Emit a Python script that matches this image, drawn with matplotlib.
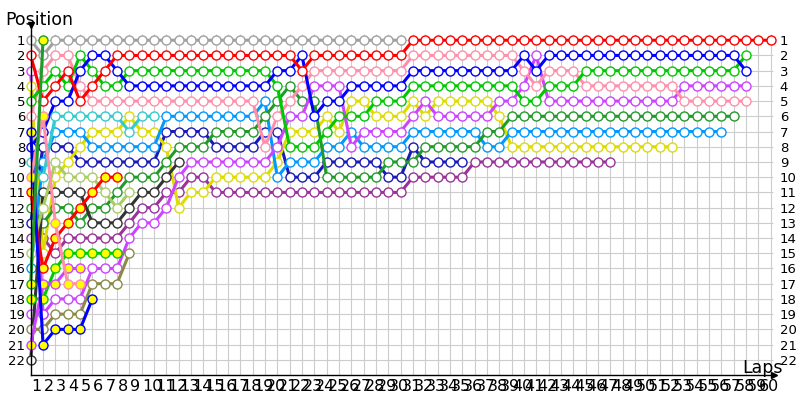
import matplotlib
matplotlib.use("Agg")
import matplotlib.pyplot as plt
from matplotlib.transforms import ScaledTranslation

# lap chart: position of each car at the end of every lap (index = lap, starting at 0)
laps = list(range(1, 61))
positions = list(range(1, 23))

gray_pos = [1, 2, 1, 1, 1, 1, 1, 1, 1, 1, 1, 1, 1, 1, 1, 1, 1, 1, 1, 1, 1,
            1, 1, 1, 1, 1, 1, 1, 1, 1, 1]
red_pos = [2, 5, 4, 3, 5, 4, 3,
           2, 2, 2, 2, 2, 2, 2, 2, 2, 2, 2, 2, 2, 2, 2,
           3,
           2, 2, 2, 2, 2, 2, 2, 2,
           1, 1, 1, 1, 1, 1, 1, 1, 1, 1, 1, 1, 1, 1, 1, 1, 1, 1, 1, 1,
           1, 1, 1, 1, 1, 1, 1, 1, 1, 1]
blue_pos = [8, 7, 5, 5, 3, 2, 2, 3,
            4, 4, 4, 4, 4, 4, 4, 4, 4, 4, 4, 4,
            3, 3, 2, 6, 5, 5,
            4, 4, 4, 4, 4,
            3, 3, 3, 3, 3, 3, 3, 3, 3,
            2, 3,
            2, 2, 2, 2, 2, 2, 2, 2, 2, 2, 2, 2, 2, 2, 2, 2,
            3]
green_pos = [5, 4, 3, 4, 2, 3, 4, 4,
             3, 3, 3, 3, 3, 3, 3, 3, 3, 3, 3, 3,
             4, 8, 8, 8, 7, 6, 6, 6, 5, 5, 5,
             4, 4, 4, 4, 4, 4, 4, 4, 4,
             5, 5, 4, 4, 4,
             3, 3, 3, 3, 3, 3, 3, 3, 3, 3, 3, 3, 3,
             2]
pink_pos = [6, 3, 2, 2, 4,
            5, 5, 5, 5, 5, 5, 5, 5, 5, 5, 5, 5, 5, 5,
            8, 6, 5, 4,
            3, 3, 3, 3, 3, 3, 3, 3,
            2, 2, 2, 2, 2, 2, 2, 2, 2,
            3, 4, 3, 3, 3,
            4, 4, 4, 4, 4, 4, 4, 4,
            5, 5, 5, 5, 5, 5]
violet_pos = [19, 19, 18, 18, 18, 16, 16, 16, 14, 13, 13, 12, 10,
              9, 9, 9, 9, 9, 9, 9,
              8, 6, 6, 4, 4, 4, 8, 7, 7, 7, 7,
              6, 5, 6, 6, 6, 6, 6, 5, 5, 4, 2,
              5, 5, 5, 5, 5, 5, 5, 5, 5, 5, 5,
              4, 4, 4, 4, 4, 4]
dgreen_pos = [12, 13, 12, 12, 13, 12, 12, 11, 10, 10, 10, 9,
              8, 8, 8, 7, 7, 7, 7,
              6, 5, 4, 5, 5,
              10, 10, 10, 10, 10,
              9, 9, 9, 8, 8, 8, 8, 8, 7, 7,
              6, 6, 6, 6, 6, 6, 6, 6, 6, 6, 6, 6, 6, 6, 6, 6, 6, 6, 6]
sky_pos = [16, 9, 7, 7, 7,
           8, 8, 8, 8, 8, 8,
           6, 6, 6, 6, 6, 6, 6, 6,
           5, 10, 9, 9, 9, 8, 8, 7, 8, 8, 8, 8,
           7, 7, 7, 7, 7, 7, 8, 8,
           7, 7, 7, 7, 7, 7, 7, 7, 7, 7, 7, 7, 7, 7, 7, 7, 7, 7]
yellow_pos = [4, 15, 10, 9, 8, 7, 7, 7, 6, 7, 7, 8, 12,
              11, 11, 10, 10, 10, 10, 10,
              9, 7, 7, 7, 6, 7, 5, 5, 6, 6, 6,
              5, 6, 5, 5, 5, 5, 5, 6,
              8, 8, 8, 8, 8, 8, 8, 8, 8, 8, 8, 8, 8, 8]
purple_pos = [14, 14, 15, 14, 14, 14, 14, 14, 13, 12, 12, 11, 11, 10, 10,
              11, 11, 11, 11, 11, 11, 11, 11, 11, 11, 11, 11, 11, 11, 11, 11,
              10, 10, 10, 10, 10,
              9, 9, 9, 9, 9, 9, 9, 9, 9, 9, 9, 9]
navy_pos = [13, 8, 8, 8, 9, 9, 9, 9, 9, 9, 9, 7, 7, 7, 7, 8, 8, 8, 8,
            7, 7, 10, 10, 10, 9, 9, 9, 9, 9, 10, 10, 8, 9, 9, 9, 9]
cyan_pos = [9, 10, 6, 6, 6, 6, 6, 6, 7, 6, 6]
dgray_pos = [22, 11, 11, 11, 11, 13, 13, 13, 12, 11, 11, 10, 9]
lolive_pos = [15, 12, 9, 10, 10, 10, 11, 12, 11]
olive_pos = [20, 20, 19, 19, 19, 17, 17, 17, 15]
red2_pos = [11, 16, 14, 13, 12, 11, 10, 10]
lime_pos = [18, 18, 16, 15, 15, 15, 15, 15]
violet2_pos = [21, 17, 17, 16, 16]
blue2_pos = [7, 21, 20, 20, 20, 18]
pink2_pos = [10, 6, 13, 17, 17]
dgreen2_pos = [17, 1]
violet3_pos = [3, 19]

# (positions, line colour, marker fill) in drawing order
cars = [
    (violet3_pos, '#cc44ff', 'white'),
    (gray_pos, '#a0a0a0', 'white'),
    (purple_pos, '#993399', 'white'),
    (navy_pos, '#1a1ab8', 'white'),
    (yellow_pos, '#dcdc00', 'white'),
    (sky_pos, '#0099ff', 'white'),
    (dgreen_pos, '#229a2a', 'white'),
    (violet_pos, '#cc44ff', 'white'),
    (pink_pos, '#ff8fab', 'white'),
    (green_pos, '#00c800', 'white'),
    (blue_pos, '#0000ff', 'white'),
    (red_pos, '#ff0000', 'white'),
    (cyan_pos, '#33cccc', 'white'),
    (dgray_pos, '#333333', 'white'),
    (lolive_pos, '#aacc66', 'white'),
    (olive_pos, '#8a8a4a', 'white'),
    (red2_pos, '#ff0000', '#ffff00'),
    (lime_pos, '#00cc00', '#ffff00'),
    (violet2_pos, '#cc44ff', '#ffff00'),
    (blue2_pos, '#0000ff', '#ffff00'),
    (pink2_pos, '#ff8fab', '#ffff00'),
    (dgreen2_pos, '#229a2a', '#ffff00'),
]

fig = plt.figure(figsize=(8, 4), dpi=100, facecolor='white')
ax = fig.add_axes([30.7 / 800, 25 / 400, 743.5 / 800, 350 / 400])
ax.set_xlim(0, 60.3)
ax.set_ylim(23, 0)

# grid
ax.vlines(laps, 0.6, 23, color='#cccccc', lw=0.8, zorder=0)
ax.hlines(positions, 0, 60.2, color='#cccccc', lw=0.8, zorder=0)

for pos, col, fill in cars:
    ax.plot(range(len(pos)), pos, color=col, lw=2.2, marker='o', ms=6.5,
            mfc=fill, mec=col, mew=1.0, solid_capstyle='round', clip_on=False)

for s in ['top', 'right']:
    ax.spines[s].set_visible(False)
for s in ['left', 'bottom']:
    ax.spines[s].set_color('black')
    ax.spines[s].set_linewidth(1.0)

ax.set_yticks(positions)
ax.set_yticklabels([str(p) for p in positions])
ax.tick_params(axis='y', length=0, pad=4, labelsize=9.5, labelleft=True, labelright=True)
ax.set_xticks(laps)
ax.set_xticklabels([str(l) for l in laps])
ax.tick_params(axis='x', length=0, pad=3, labelsize=11.5)
shift = ScaledTranslation(-11.5 / 100, 0, fig.dpi_scale_trans)
for lab in ax.get_xticklabels():
    lab.set_ha('left')
    lab.set_transform(lab.get_transform() + shift)

# axis arrows
ax.plot([0], [0], marker='v', color='black', ms=4, clip_on=False)
ax.plot([60.3], [23], marker='>', color='black', ms=5, clip_on=False)

fig.text(5 / 800, 1 - 25 / 400, 'Position', fontsize=12.5, va='baseline', ha='left')
fig.text(783 / 800, 1 - 373 / 400, 'Laps', fontsize=12.5, va='baseline', ha='right')

fig.savefig('out.png', dpi=100, facecolor='white')
